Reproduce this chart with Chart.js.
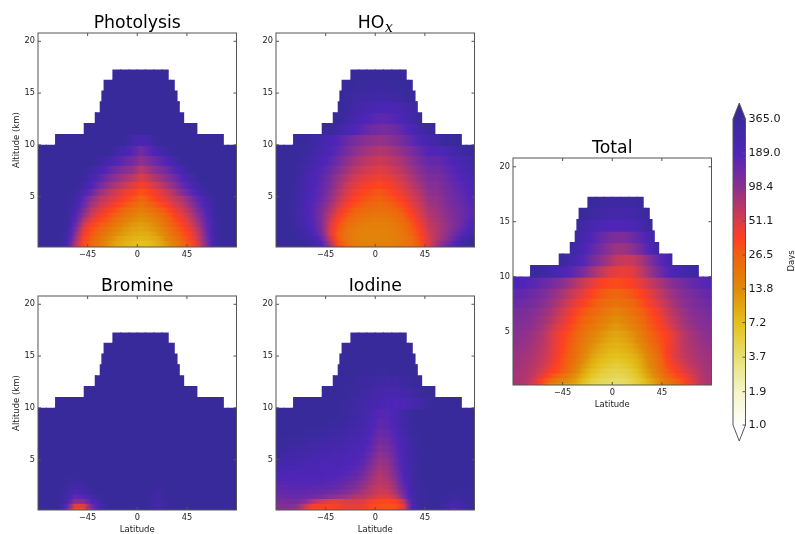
<!DOCTYPE html>
<html>
<head>
<meta charset="utf-8">
<title>Lifetime panels</title>
<script src="https://cdn.jsdelivr.net/npm/chart.js@4"></script>
<style>
  html, body { margin: 0; padding: 0; background: #fff; }
  canvas { position: absolute; }
</style>
</head>
<body>
<script>
// latitude cell edges, altitude row centres (km), bottom row first
const latEdges = [-90,-82.5,-75,-67.5,-60,-52.5,-45,-37.5,-30,-22.5,-15,-7.5,0,7.5,15,22.5,30,37.5,45,52.5,60,67.5,75,82.5,90];
const alts = [0.125,0.575,1.025,1.475,1.925,2.375,2.825,3.275,3.725,4.275,4.825,5.475,6.125,6.875,7.625,8.475,9.425,10.475,11.525,12.575,13.625,14.675,15.725,16.725];
// the top rows are narrower: first cell of each row and its latitude limits
const firstCol = [0,0,0,0,0,0,0,0,0,0,0,0,0,0,0,0,0,2,5,6,7,7,8,9];
const rowLo = [-90,-90,-90,-90,-90,-90,-90,-90,-90,-90,-90,-90,-90,-90,-90,-90,-90,-74,-48,-38,-33.5,-32,-30,-22];
const rowHi = [90,90,90,90,90,90,90,90,90,90,90,90,90,90,90,90,90,78,54,42,38,36,33.5,28];
const xTicks = [-45,0,45];
const yTicks = [5,10,15,20];
const cbarTicks = [1,1.9,3.7,7.2,13.8,26.5,51.1,98.4,189,365];
const cmapValues = [1,1.9,3.7,7.2,13.8,26.5,36,51.1,98.4,189,365];
const cmapColors = [[255,255,252],[246,244,200],[232,224,112],[227,192,26],[224,138,8],[240,98,15],[255,64,32],[217,60,74],[138,48,144],[79,37,184],[57,42,156]];

// lifetime in days
const photolysis = [
[400,400,400,220,68,33,23,17,12,9,7.5,7,6.5,7,8,11,15,22,30,50,115,300,400,400],
[400,400,400,240,75,35,25,18,13,10,8.5,7.5,7,7.5,9,12,17,24,33,56,125,310,400,400],
[400,400,400,270,90,38,27,20,15,11,9.5,8.5,8,8.5,10,14,19,27,37,62,135,320,400,400],
[400,400,400,300,105,42,29,22,17,13,11,9.5,9,9.5,12,16,22,30,41,68,145,320,400,400],
[400,400,400,330,125,48,32,25,20,15,12,10.5,10,11,13,18,25,33,46,75,155,330,400,400],
[400,400,400,350,150,58,37,29,24,18,14,12,11,12,15,21,28,37,52,85,165,330,400,400],
[400,400,400,360,175,75,45,35,28,21,17,14,12.5,14,17,23,32,42,60,95,175,330,400,400],
[400,400,400,370,200,95,55,41,33,25,20,16.5,14,16,20,26,36,47,68,108,190,340,400,400],
[400,400,400,390,230,115,65,48,38,30,24,20,16.5,20,25,31,42,55,80,125,210,340,400,400],
[400,400,400,400,260,140,80,58,46,37,30,25,20,25,31,38,50,65,95,150,240,360,400,400],
[400,400,400,400,300,160,95,68,55,45,36,30,24,30,38,46,60,75,110,170,260,370,400,400],
[400,400,400,400,350,220,140,90,68,54,44,37,30,36,44,56,76,110,160,240,350,400,400,400],
[400,400,400,400,390,280,190,125,90,72,58,48,38,46,58,75,100,145,210,310,400,400,400,400],
[400,400,400,400,400,340,250,170,120,92,78,65,50,62,78,100,130,190,270,380,400,400,400,400],
[400,400,400,400,400,380,310,230,165,125,105,90,65,85,105,130,180,260,360,400,400,400,400,400],
[400,400,400,400,400,400,390,330,260,190,150,125,95,120,150,190,270,350,400,400,400,400,400,400],
[400,400,400,400,400,400,400,400,380,300,230,170,125,170,230,320,400,400,400,400,400,400,400,400],
[400,400,400,400,400,400,400,400,400,260,220,260,370,400,400,400,400,400,400,400,400],
[400,400,400,400,400,400,400,400,400,400,400,400,400,400,400],
[400,400,400,400,400,400,400,400,400,400,400,400],
[400,400,400,400,400,400,400,400,400,400,400],
[400,400,400,400,400,400,400,400,400,400],
[400,400,400,400,400,400,400,400,400],
[400,400,400,400,400,400,400]
];
const hox = [
[400,400,400,390,340,250,110,42,26,20,17,17,17,17,18,20,24,31,48,90,160,270,370,400],
[400,400,400,360,280,190,75,33,22,18,16,16,16,16,17,19,23,32,50,80,115,180,290,380],
[400,400,380,320,240,150,60,29,20,17,15.5,15.5,15.5,16,17,19,24,34,52,72,95,140,220,330],
[400,400,360,290,210,125,52,28,20,17,15.5,15.5,15.5,16,17,20,26,36,55,70,90,125,175,270],
[400,400,340,260,190,115,52,30,21,17.5,16,16,16,16.5,18,21,28,39,58,72,88,115,150,220],
[400,390,320,240,180,110,55,33,23,19,17,16.5,16.5,17,19,23,30,42,62,72,88,110,140,190],
[400,380,310,230,170,110,60,37,26,21,19,18,17.5,18,20,25,33,46,66,75,92,112,135,175],
[400,370,300,220,165,110,66,42,30,24,21,20,19,20,22,28,37,50,70,78,95,115,135,170],
[400,370,300,220,165,115,75,48,35,27,24,22,21,22,25,31,41,55,76,82,100,118,138,170],
[400,380,300,220,170,125,85,56,40,32,27,25,23,25,29,35,46,60,82,88,105,125,145,175],
[400,390,310,230,180,140,95,65,46,36,31,28,26,29,33,40,52,65,88,90,110,130,150,180],
[400,400,320,240,190,150,105,72,52,41,35,32,29,33,38,46,58,72,95,98,118,138,160,190],
[400,400,330,250,195,155,115,80,60,47,41,37,34,38,44,52,66,82,105,105,125,148,172,205],
[400,400,340,260,210,165,125,90,70,56,48,44,40,45,50,60,75,92,115,115,135,160,190,225],
[400,400,350,280,230,180,140,105,82,66,58,52,48,52,60,70,85,105,130,130,150,175,210,250],
[400,400,370,310,260,210,170,130,100,80,68,62,56,62,70,82,100,125,150,150,170,200,240,290],
[400,400,380,340,300,250,200,160,125,100,85,76,70,75,85,100,120,150,190,190,220,260,310,360],
[400,370,320,270,220,180,145,120,105,95,90,95,110,130,160,200,250,300,340,380,400],
[400,360,300,240,190,160,135,125,125,135,165,210,280,350,400],
[400,370,300,250,210,180,160,165,180,220,280,370],
[390,340,290,250,230,220,210,220,250,290,370],
[390,350,320,300,290,280,290,310,340,390],
[390,370,350,340,330,340,350,370,390],
[390,380,370,370,370,380,390]
];
const bromine = [
[400,400,370,120,30,32,100,260,370,400,400,400,400,340,250,340,400,400,400,400,400,400,400,400],
[400,400,400,170,45,48,130,240,380,400,400,400,400,350,250,350,400,400,400,400,400,400,400,400],
[400,400,400,230,100,110,190,290,400,400,400,400,400,350,260,350,400,400,400,400,400,400,400,400],
[400,400,400,260,150,180,250,350,400,400,400,400,400,370,280,370,400,400,400,400,400,400,400,400],
[400,400,400,300,220,250,340,400,400,400,400,400,400,390,310,390,400,400,400,400,400,400,400,400],
[400,400,400,320,260,290,370,400,400,400,400,400,400,400,340,400,400,400,400,400,400,400,400,400],
[400,400,400,340,300,340,400,400,400,400,400,400,400,400,380,400,400,400,400,400,400,400,400,400],
[400,400,400,360,340,370,400,400,400,400,400,400,400,400,400,400,400,400,400,400,400,400,400,400],
[400,400,400,400,400,400,400,400,400,400,400,400,400,400,400,400,400,400,400,400,400,400,400,400],
[400,400,400,400,400,400,400,400,400,400,400,400,400,400,400,400,400,400,400,400,400,400,400,400],
[400,400,400,400,400,400,400,400,400,400,400,400,400,400,400,400,400,400,400,400,400,400,400,400],
[400,400,400,400,400,400,400,400,400,400,400,400,400,400,400,400,400,400,400,400,400,400,400,400],
[400,400,400,400,400,400,400,400,400,400,400,400,400,400,400,400,400,400,400,400,400,400,400,400],
[400,400,400,400,400,400,400,400,400,400,400,400,400,400,400,400,400,400,400,400,400,400,400,400],
[400,400,400,400,400,400,400,400,400,400,400,400,400,400,400,400,400,400,400,400,400,400,400,400],
[400,400,400,400,400,400,400,400,400,400,400,400,400,400,400,400,400,400,400,400,400,400,400,400],
[400,400,400,400,400,400,400,400,400,400,400,400,400,400,400,400,400,400,400,400,400,400,400,400],
[400,400,400,400,400,400,400,400,400,400,400,400,400,400,400,400,400,400,400,400,400],
[400,400,400,400,400,400,400,400,400,400,400,400,400,400,400],
[400,400,400,400,400,400,400,400,400,400,400,400],
[400,400,400,400,400,400,400,400,400,400,400],
[400,400,400,400,400,400,400,400,400,400],
[400,400,400,400,400,400,400,400,400],
[400,400,400,400,400,400,400]
];
const iodine = [
[100,100,85,45,32,33,35,38,42,42,40,33,32,31,33,60,230,340,370,340,260,130,250,320],
[105,110,100,60,38,38,36,40,45,45,42,34,32,30,32,50,220,330,370,360,300,220,290,340],
[120,125,125,105,70,55,45,45,50,50,50,40,35,34,38,70,240,340,370,370,330,290,310,350],
[135,140,145,140,130,115,100,90,82,72,66,56,48,48,62,115,260,340,380,380,350,320,330,360],
[150,155,160,155,150,145,135,125,110,92,78,65,56,58,78,140,270,340,380,390,370,350,350,370],
[160,165,170,170,165,160,155,145,130,110,88,70,60,65,90,160,280,340,380,390,380,370,360,380],
[175,175,180,180,180,175,170,160,145,125,100,78,65,70,100,175,290,350,390,400,390,380,380,390],
[195,190,190,190,190,190,185,175,160,145,115,85,68,76,110,190,300,360,390,400,400,400,400,400],
[220,205,200,200,200,200,195,190,175,160,130,95,72,82,120,200,300,360,390,400,400,400,400,400],
[250,230,225,215,210,205,205,200,190,175,145,105,78,88,130,210,300,360,390,400,400,400,400,400],
[280,260,250,235,225,220,215,210,200,190,165,120,85,95,140,220,300,360,390,400,400,400,400,400],
[310,290,280,260,240,235,225,220,210,200,180,135,95,105,150,230,310,360,390,400,400,400,400,400],
[340,320,310,290,270,260,250,240,225,215,195,155,110,120,160,240,310,360,390,400,400,400,400,400],
[370,350,340,330,310,300,280,270,250,235,215,170,125,135,175,250,320,370,390,400,400,400,400,400],
[390,380,370,360,350,340,320,300,280,260,235,185,140,150,190,270,340,380,400,400,400,400,400,400],
[400,400,400,390,380,370,360,340,320,290,260,205,160,165,210,290,350,390,400,400,400,400,400,400],
[400,400,400,400,400,390,380,370,340,310,270,220,175,175,220,300,360,390,400,400,400,400,400,400],
[400,400,400,400,390,370,350,320,290,260,230,205,195,205,240,290,350,390,400,400,400],
[400,400,390,370,350,310,280,250,235,235,260,300,350,390,400],
[400,400,390,370,340,320,300,290,300,340,380,400],
[400,400,390,380,370,360,360,370,380,390,400],
[400,400,400,400,400,400,400,400,400,400],
[400,400,400,400,400,400,400,400,400],
[400,400,400,400,400,400,400]
];
const total = [
[78,68,48,32,15,12,11,9,6.3,4.7,4.1,3.8,3.6,3.8,4.6,6,8.3,12,17,22,30,40,60,75],
[78,70,55,36,24,17,14,11,7.5,5.4,4.6,4.3,4,4.3,5,6.5,9,13,19,25,33,45,62,76],
[78,72,60,44,32,24,18,13,9,6.5,5.3,4.8,4.5,4.8,5.6,7.5,11,16,24,31,38,50,65,78],
[80,74,64,52,40,32,24,16,10.5,7.5,6,5.3,5,5.3,6.2,8.5,12.5,18,28,36,45,56,68,80],
[82,76,67,56,44,34,26,18,12,8.5,6.8,6,5.5,6,7,9.5,14,20,30,40,50,62,72,82],
[84,78,70,60,48,36,27,20,13.5,9.5,7.6,6.8,6.2,6.8,7.8,10,15,21,32,44,55,66,75,84],
[85,80,72,62,50,38,28,22,15,10.5,8.5,7.5,7,7.5,8.5,11,16,22,35,48,60,70,78,85],
[88,83,75,65,52,39,30,23,16,12,9.5,8.3,7.7,8.3,9.5,12.5,18,24,36,48,61,71,80,88],
[92,87,78,67,53,40,31,24,17,13,10.5,9,8.5,9,10.5,14,20,26,36,47,62,73,83,92],
[96,91,82,70,54,41,32,25,18.5,14.5,12,10,9.3,10,12,16,22,29,36,47,64,76,87,96],
[100,95,85,72,55,42,34,26,20,16,13,11,10,11,13,18,24,31,37,48,65,78,90,100],
[107,102,92,79,62,48,38,30,23,19,15.5,13,11.5,13,15.5,20,27,34,43,57,73,86,97,107],
[113,108,98,85,70,55,43,33,26,22,18,15,13,15,18,23,30,37,49,63,79,93,103,113],
[120,115,105,92,78,62,48,37,30,25,21,18,15.5,18,21,26,33,40,55,70,85,100,110,120],
[140,132,120,105,88,72,57,45,37,30,25,22,20,22,25,31,39,49,63,80,95,110,122,135],
[160,150,135,120,100,85,68,55,45,36,30,27,25,27,30,36,45,58,72,90,105,120,135,150],
[200,190,170,150,130,108,90,72,58,46,38,34,33,34,38,46,58,72,88,108,125,145,165,180],
[360,330,280,240,190,150,115,85,65,52,45,43,48,62,85,120,165,220,270,310,340],
[360,300,230,180,130,100,78,62,58,60,75,105,150,210,290],
[360,280,210,160,125,100,85,85,100,130,190,300],
[330,250,190,150,125,115,115,135,165,220,310],
[370,290,240,210,190,185,190,210,250,350],
[380,320,290,270,260,260,270,300,370],
[370,340,320,310,310,320,350]
];

const FONT = 'DejaVu Sans';
const TXT = '#1a1a1a';
const EDGE = '#555';

function colorFor(v) {
    var n = cmapValues.length;
    if (v <= cmapValues[0]) return 'rgb(' + cmapColors[0].join(',') + ')';
    if (v >= cmapValues[n-1]) return 'rgb(' + cmapColors[n-1].join(',') + ')';
    for (var i = 1; i < n; i++) {
        if (v <= cmapValues[i]) {
            var t = (Math.log(v) - Math.log(cmapValues[i-1])) / (Math.log(cmapValues[i]) - Math.log(cmapValues[i-1]));
            var a = cmapColors[i-1], b = cmapColors[i];
            return 'rgb(' + [0,1,2].map(function(k){ return Math.round(a[k] + (b[k]-a[k])*t); }).join(',') + ')';
        }
    }
}

function cellOf(grid, r, j) {
    var k = j - firstCol[r];
    return (k >= 0 && k < grid[r].length) ? grid[r][k] : null;
}

// one dataset per latitude column, one floating bar per altitude row
function columnsFor(grid) {
    var sets = [];
    for (var j = 0; j < latEdges.length - 1; j++) {
        var data = [];
        alts.forEach(function(a, r) {
            var v = cellOf(grid, r, j);
            if (v === null) {
                data.push({y: a, x: [0, 0], v: null});
                return;
            }
            var left = cellOf(grid, r, j-1), right = cellOf(grid, r, j+1);
            data.push({
                y: a,
                x: [Math.max(latEdges[j], rowLo[r]), Math.min(latEdges[j+1], rowHi[r])],
                v: v,
                vl: left === null ? v : Math.sqrt(v*left),
                vr: right === null ? v : Math.sqrt(v*right),
                j: j
            });
        });
        sets.push({
            data: data,
            barThickness: 'flex',
            categoryPercentage: 1,
            barPercentage: 1,
            borderWidth: 0,
            inflateAmount: 0.6,
            backgroundColor: function(ctx) {
                var d = ctx.raw;
                if (!d || d.v === null || d.v === undefined) return 'rgba(0,0,0,0)';
                var xs = ctx.chart.scales.x;
                var x0 = xs ? xs.getPixelForValue(latEdges[d.j]) : NaN;
                var x1 = xs ? xs.getPixelForValue(latEdges[d.j+1]) : NaN;
                if (!isFinite(x0) || !isFinite(x1)) return colorFor(d.v);
                var g = ctx.chart.ctx.createLinearGradient(x0, 0, x1, 0);
                g.addColorStop(0, colorFor(d.vl));
                g.addColorStop(0.5, colorFor(d.v));
                g.addColorStop(1, colorFor(d.vr));
                return g;
            }
        });
    }
    return sets;
}

// frame and inward ticks on all four sides, title centred over the axes
const framePlugin = {
    id: 'frame',
    beforeDraw: function(chart) {
        if (chart.titleBlock) {
            chart.titleBlock.left = chart.chartArea.left;
            chart.titleBlock.right = chart.chartArea.right;
        }
    },
    afterDatasetsDraw: function(chart) {
        var c = chart.ctx, a = chart.chartArea;
        c.save();
        c.strokeStyle = EDGE;
        c.lineWidth = 1;
        c.strokeRect(a.left, a.top, a.right - a.left, a.bottom - a.top);
        c.beginPath();
        xTicks.forEach(function(t) {
            var p = chart.scales.x.getPixelForValue(t);
            c.moveTo(p, a.top); c.lineTo(p, a.top + 3);
            c.moveTo(p, a.bottom); c.lineTo(p, a.bottom - 3);
        });
        yTicks.forEach(function(t) {
            var p = chart.scales.y.getPixelForValue(t);
            c.moveTo(a.left, p); c.lineTo(a.left + 3, p);
            c.moveTo(a.right, p); c.lineTo(a.right - 3, p);
        });
        c.stroke();
        c.restore();
    }
};

// the subscript of HOx
const subPlugin = {
    id: 'subx',
    afterDraw: function(chart) {
        var c = chart.ctx, a = chart.chartArea;
        c.save();
        c.fillStyle = '#000';
        c.font = 'italic 14px "DejaVu Serif"';
        c.textBaseline = 'alphabetic';
        c.fillText('x', a.left + 109, 32);
        c.restore();
    }
};

function panel(left, top, height, name, grid, showY, showX, extra) {
    var cv = document.createElement('canvas');
    cv.style.left = (left - 38) + 'px';
    cv.style.top = (top - 33) + 'px';
    cv.width = 237;
    cv.height = height;
    document.body.appendChild(cv);
    new Chart(cv, {
        type: 'bar',
        data: { datasets: columnsFor(grid) },
        plugins: [framePlugin].concat(extra || []),
        options: {
            indexAxis: 'y',
            responsive: false,
            animation: false,
            events: [],
            devicePixelRatio: 1,
            layout: { padding: { left: 0, right: 0.5, top: 0, bottom: 0 } },
            plugins: {
                legend: { display: false },
                tooltip: { enabled: false },
                title: {
                    display: true,
                    text: name,
                    color: '#000',
                    font: { family: FONT, size: 17.3, weight: 'normal', lineHeight: 1 },
                    padding: { top: 14.4, bottom: 1.3 }
                }
            },
            scales: {
                x: {
                    type: 'linear',
                    min: -90, max: 90,
                    stacked: false,
                    grid: { display: false, drawTicks: false },
                    border: { display: false },
                    afterBuildTicks: function(s) { s.ticks = xTicks.map(function(v){ return {value: v}; }); },
                    afterFit: function(s) { s.height = 30; },
                    ticks: {
                        autoSkip: false, maxRotation: 0, padding: 3, color: TXT,
                        font: { family: FONT, size: 8.2 },
                        callback: function(v) { return v < 0 ? '\u2212' + (-v) : '' + v; }
                    },
                    title: {
                        display: showX, text: 'Latitude', color: TXT,
                        font: { family: FONT, size: 8.5 },
                        padding: { top: 0, bottom: 5 }
                    }
                },
                y: {
                    type: 'linear',
                    min: 0.14, max: 20.8,
                    stacked: true,
                    offset: false,
                    grid: { display: false, offset: false, drawTicks: false },
                    border: { display: false },
                    afterBuildTicks: function(s) { s.ticks = yTicks.map(function(v){ return {value: v}; }); },
                    afterFit: function(s) { s.width = 38; },
                    ticks: {
                        autoSkip: false, padding: 3, color: TXT,
                        font: { family: FONT, size: 8.2 }
                    },
                    title: {
                        display: showY, text: 'Altitude (km)', color: TXT,
                        font: { family: FONT, size: 8.5 },
                        padding: { top: 12, bottom: 0 }
                    }
                }
            }
        }
    });
}

panel(38, 33, 277, 'Photolysis', photolysis, true, false);
panel(276, 33, 277, 'HO\u2002', hox, false, false, [subPlugin]);
panel(38, 296, 277, 'Bromine', bromine, true, true);
panel(276, 296, 277, 'Iodine', iodine, false, true);
panel(513, 158, 290, 'Total', total, false, true);

// colour bar
const cbarPlugin = {
    id: 'cbarExtras',
    afterDatasetsDraw: function(chart) {
        var c = chart.ctx, a = chart.chartArea, mid = (a.left + a.right) / 2;
        c.save();
        c.strokeStyle = EDGE;
        c.lineWidth = 1;
        c.beginPath();
        c.moveTo(a.left, a.top); c.lineTo(mid, a.top - 16); c.lineTo(a.right, a.top);
        c.closePath();
        c.fillStyle = colorFor(365);
        c.fill();
        c.beginPath();
        c.moveTo(a.left, a.bottom); c.lineTo(mid, a.bottom + 16); c.lineTo(a.right, a.bottom);
        c.closePath();
        c.fillStyle = '#fff';
        c.fill();
        c.beginPath();
        c.moveTo(a.left, a.top); c.lineTo(mid, a.top - 16); c.lineTo(a.right, a.top);
        c.lineTo(a.right, a.bottom); c.lineTo(mid, a.bottom + 16); c.lineTo(a.left, a.bottom);
        c.closePath();
        cbarTicks.forEach(function(t) {
            var p = chart.scales.y.getPixelForValue(t);
            c.moveTo(a.right, p); c.lineTo(a.right - 3, p);
        });
        c.stroke();
        c.translate(71.5, 166);
        c.rotate(-Math.PI / 2);
        c.fillStyle = TXT;
        c.font = '8.5px "' + FONT + '"';
        c.textAlign = 'center';
        c.textBaseline = 'middle';
        c.fillText('Days', 0, 0);
        c.restore();
    }
};

var cbarCanvas = document.createElement('canvas');
cbarCanvas.style.left = '720px';
cbarCanvas.style.top = '95px';
cbarCanvas.width = 75;
cbarCanvas.height = 350;
document.body.appendChild(cbarCanvas);
new Chart(cbarCanvas, {
    type: 'bar',
    data: {
        labels: [''],
        datasets: [{
            data: [[cmapValues[0], cmapValues[cmapValues.length-1]]],
            categoryPercentage: 1,
            barPercentage: 1,
            borderWidth: 0,
            backgroundColor: function(ctx) {
                var ys = ctx.chart.scales.y;
                var lo = ys ? ys.getPixelForValue(1) : NaN, hi = ys ? ys.getPixelForValue(365) : NaN;
                if (!isFinite(lo) || !isFinite(hi)) return colorFor(100);
                var g = ctx.chart.ctx.createLinearGradient(0, lo, 0, hi);
                cmapValues.forEach(function(v, i) {
                    g.addColorStop(Math.log(v) / Math.log(365), 'rgb(' + cmapColors[i].join(',') + ')');
                });
                return g;
            }
        }]
    },
    plugins: [cbarPlugin],
    options: {
        responsive: false,
        animation: false,
        events: [],
        devicePixelRatio: 1,
        layout: { padding: { left: 13, right: 0, top: 24, bottom: 20 } },
        plugins: { legend: { display: false }, tooltip: { enabled: false }, title: { display: false } },
        scales: {
            x: { display: false },
            y: {
                type: 'logarithmic',
                position: 'right',
                min: 1, max: 365,
                grid: { display: false, drawTicks: false },
                border: { display: false },
                afterBuildTicks: function(s) { s.ticks = cbarTicks.map(function(v){ return {value: v}; }); },
                afterFit: function(s) { s.width = 49.5; },
                ticks: {
                    autoSkip: false, padding: 3, color: TXT,
                    font: { family: FONT, size: 11.2 },
                    callback: function(v) { return Number(v).toFixed(1); }
                }
            }
        }
    }
});
</script>
</body>
</html>
